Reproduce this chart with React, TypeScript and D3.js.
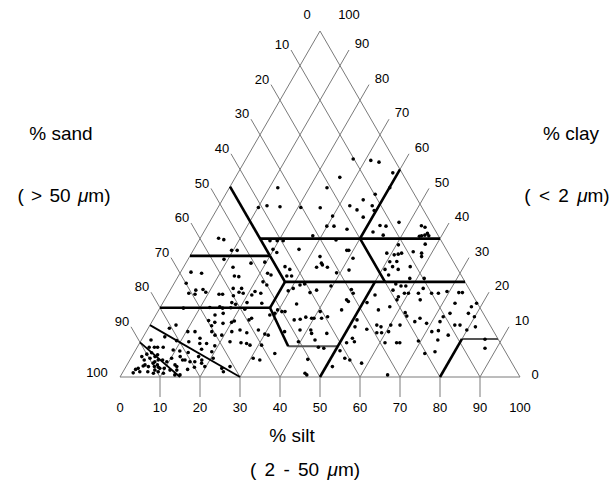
import React from "react";
import * as d3 from "d3";

// Grid values (percent)
const gridValues = [10, 20, 30, 40, 50, 60, 70, 80, 90];
const sandLabels = [0, 10, 20, 30, 40, 50, 60, 70, 80, 90, 100];
const clayLabels = [0, 10, 20, 30, 40, 50, 60, 70, 80, 90, 100];
const siltLabels = [0, 10, 20, 30, 40, 50, 60, 70, 80, 90, 100];

// Samples: [silt %, clay %]
const samples: [number, number][] = [
  [4.6,40.1],[6.1,39.7],[9.6,36.6],[11,36.6],[9,34],[16.3,32.9],
  [26.8,63],[31.4,62.6],[33.7,62.1],[38.7,59],[26.1,57.7],[24.4,54.7],[12.1,54.7],[40.1,54.7],
  [37.4,52.8],[35.2,51.2],[32.7,49.5],[10.1,49],[12,49.5],[15.4,49.2],[20.7,49],[25.6,48.9],
  [35.1,48.3],[38.3,49.5],[39.5,48.1],[29.9,46.5],[37.7,46.2],[29.9,43.6],[31.7,43.6],[35.4,42.7],
  [43.1,43.8],[42.3,41.9],[45.3,41],[27.8,40.8],[17.8,39.4],[19.6,39.4],[21.1,39.4],[34.2,39.6],
  [19.8,36.9],[21.2,36],[26.3,36.9],[38.4,36.6],[38.9,36.6],[32.6,34.8],[41.1,34.3],[19.6,33.2],[33.9,32.9],
  [47.4,44.7],[44.7,43.6],[53.5,43.7],[54.6,43.3],[56.1,41.5],[56.8,40.8],[55.7,41],[55,40.8],[54.5,40.7],
  [50.5,38.2],[48.8,35.8],[50.9,35.3],[51.8,35.5],[52.5,35.8],[55.2,36.2],[57.5,35.8],[58,34.8],[57.1,38.4],
  [50.8,33.3],[52.5,33.4],
  [2.6,30.3],[5.4,30],[3,27.1],[12.4,31.7],[14,29.2],[15.2,29],[5.1,24.2],[6.8,23.9],[6.4,25.1],[8.1,25.3],
  [9.2,24.5],[12.8,23.9],[13.7,23.9],[15.5,25.6],[17.6,25.6],[17.5,24.5],[18.7,24.2],[16.6,23.5],[17.2,21.5],
  [18.4,21],[5.9,19.9],[12.4,20.1],[14.8,20.3],[15.7,19.9],[17.7,20],[21.4,19.6],[14.8,17.9],[16.6,18.4],
  [14,16.3],[15.8,15.8],[18,15.5],[20,15.8],[20.5,16.2],[5.3,14.1],[6.5,15],[10.4,13.1],[12.2,13.1],
  [16.4,13.1],[17.7,12.1],[19.4,12.1],[21.4,13.1],[23.2,13.6],[2.4,10.7],[5.4,11.6],[8.9,10.5],[12.1,10.2],
  [14.4,11.2],[15.1,9.7],[16.4,8],[16.8,9.7],[19.2,9],[22.4,10.2],[25.3,9.9],[26.8,9.7],[3,8.6],[4.3,8.6],
  [5.1,8.6],[6.5,8.6],[4.4,7],[3.4,6.6],[6.2,6.4],[3.6,4.9],[4.8,5.4],[6.5,4.4],[7.1,4.9],[8.2,4.9],[9.5,4.4],
  [4.2,3.2],[5.6,3],[7.1,3],[8.2,2.8],[4.2,1.5],[2.7,1.2],[2.8,2.2],[6.2,1.5],[7.7,2],[8.8,1.5],[9.8,2.5],
  [11.5,2],[12.1,5.9],[13.8,4.9],[16.5,4.4],[16.7,5.9],[15.8,2.2],[17.2,2.8],[12.7,3],[19.7,3],[24.2,2.5],
  [25.1,1.5],[26,3],[13.4,0.6],[14.7,0.6],
  [15.5,14.8],[9.4,7.8],[11.2,7.5],[13.5,7.1],[19.3,7.3],[20.6,5.4],[13.2,4.9],[15.3,4.4],[18,4.9],[18.4,4],
  [2.5,5.9],[4.5,3.5],[3.3,2.5],[5.8,5.9],[6.3,4],[7.6,3.5],[8.7,2.5],[10.3,1.1],[7.8,1.1],[10.2,5.4],
  [12,3.5],[13.2,2],
  [25.3,31.9],[26.9,31.1],[33.3,31.7],[34.4,32.4],[36,31.7],[41.8,30.9],[39.1,30.1],[21.9,30],[23,29.5],
  [27.1,29.2],[28.3,29.2],[22,27.5],[23.4,26.6],[31.7,26.6],[32.7,26.9],[30.5,25.6],[29.6,24.9],[39.6,26.3],
  [45.2,25.3],[36.6,25.1],[35.3,24.4],[46.2,24.2],[21.4,24.7],[23.1,24.2],[21.1,23.7],[21,21.5],[24.8,21.3],
  [33.6,21.1],[40.6,18.9],[45.7,19.4],[45.5,22.3],[46.2,21.8],[51,21.5],[29.7,19.4],[31,18.9],[31.8,18.9],
  [29.5,18.4],[28.5,17.9],[35.3,16.5],[36.7,16.7],[37.8,17.3],[39.4,17],[40,17],[41.9,17],[43.2,17.4],
  [51,16.5],[24.4,17],[24,16.5],[27.8,13.6],[25.3,12.8],[30,12.4],[31,12.1],[34.6,13.1],[38.2,13.6],
  [40.9,13.6],[41.6,12.6],[45.4,12.6],[51.5,14.5],[52.5,11.2],[53.5,10.2],[51.7,9.9],[54.8,13.8],[27.9,9.2],
  [30.8,9.2],[39.5,10.2],[43.4,10.7],[45.3,8.6],[46.8,8.3],[51.2,7.6],[30.6,5.4],[32.5,4.9],[35.3,6.8],
  [44.4,5.1],[53.5,5.4],[55,4.9],[45.7,1.1],[46.4,0.6],[51.6,3],[58.4,4],
  [52.2,31.9],[50.7,31.1],[52.4,29.5],[54,31.1],[56.6,31.9],[58.2,28.5],[61.8,28.5],[55.5,26.9],[57.1,26.3],
  [58.3,26.3],[55.7,25.1],[59,24.2],[60,24.2],[58,23.2],[58.1,22.3],[62.5,24.2],[63,25.6],[65.8,24.2],
  [67.5,24.2],[63.9,22.3],[69.4,24.7],[72.5,24.4],[73.4,24.4],[73.1,21.3],[77.7,20.3],[78.5,21.3],[51.9,23.7],
  [57.3,20.3],[54.9,19.4],[62,18.6],[62.9,17.6],[65.7,16],[66.5,17],[68.9,15.5],[72,16],[73.3,18.4],
  [77.9,18.4],[79.9,17.4],[72.1,17.4],[56.7,15],[58,14.5],[60.2,15],[62.5,15],[57.8,12.8],[59,12.8],
  [60.6,13.1],[71.4,13.1],[72.9,13.4],[76.2,15],[77.5,15],[79.9,13.6],[81.6,14.5],[61.3,9.9],[64.2,9.9],
  [65,9.9],[69.4,10.4],[74.1,10.7],[76,12.1],[72.8,6.8],[75.1,7.3],[85.8,10.9],[87.1,8.3],[66.6,0.6]
];

// Texture class boundaries: polylines of [silt %, clay %]
const thickBoundaries: [number, number][][] = [
  [[0, 55], [20, 35]],
  [[0, 35], [20, 35]],
  [[15, 40], [60, 40]],
  [[20, 35], [27.5, 27.5], [72.5, 27.5]],
  [[27.5, 27.5], [27.5, 20]],
  [[0, 20], [27.5, 20]],
  [[27.5, 20], [37.6, 8.9]],
  [[40, 60], [40, 40], [52.5, 27.5]],
  [[50, 27.5], [50, 0]],
  [[80, 0], [80, 11]],
];
const greyBoundaries: [number, number][][] = [
  [[37.6, 8.9], [50, 8.9]],
  [[80, 11], [89, 11]],
];
const thinBoundaries: [number, number][][] = [
  [[0, 15], [30, 0]],
  [[0, 10], [15, 0]],
];

export default function App() {
  const W = 614, Hpx = 487;
  const x0 = 120, y0 = 377, L = 400, H = 346;
  const xs = d3.scaleLinear().domain([0, 100]).range([x0, x0 + L]);
  const ys = d3.scaleLinear().domain([0, 100]).range([y0, y0 - H]);
  const px = (silt: number, clay: number): [number, number] => [xs(silt + clay / 2), ys(clay)];
  const line = d3
    .line<[number, number]>()
    .x((d) => px(d[0], d[1])[0])
    .y((d) => px(d[0], d[1])[1]);

  const gridColor = "#7a7a7a";
  const tickLen = 18;
  const c30 = 0.5, s60 = Math.sqrt(3) / 2;
  const font = "Liberation Sans, Arial, sans-serif";

  const apex = px(0, 100);
  const left = px(0, 0);
  const right = px(100, 0);

  return (
    <svg width={W} height={Hpx} style={{ position: "absolute", left: 0, top: 0, background: "#fff" }}>
      <path d={`M${left[0]},${left[1]}L${right[0]},${right[1]}L${apex[0]},${apex[1]}Z`} fill="none" stroke={gridColor} strokeWidth={1} />
      {gridValues.map((s) => {
        const a = px(0, 100 - s);
        const b = px(100 - s, 0);
        return (
          <line key={"sa" + s} x1={a[0] - tickLen * c30} y1={a[1] - tickLen * s60} x2={b[0]} y2={b[1]} stroke={gridColor} strokeWidth={1} />
        );
      })}
      {gridValues.map((t) => {
        const a = px(t, 0);
        const b = px(t, 100 - t);
        return (
          <g key={"si" + t}>
            <line x1={a[0]} y1={a[1]} x2={b[0] + tickLen * c30} y2={b[1] - tickLen * s60} stroke={gridColor} strokeWidth={1} />
            <line x1={a[0]} y1={a[1]} x2={a[0]} y2={a[1] + 20} stroke={gridColor} strokeWidth={1} />
          </g>
        );
      })}
      {thinBoundaries.map((b, i) => (
        <path key={"tb" + i} d={line(b) || ""} fill="none" stroke="#000" strokeWidth={1.8} />
      ))}
      {greyBoundaries.map((b, i) => (
        <path key={"gb" + i} d={line(b) || ""} fill="none" stroke="#555" strokeWidth={2} />
      ))}
      {thickBoundaries.map((b, i) => (
        <path key={"kb" + i} d={line(b) || ""} fill="none" stroke="#000" strokeWidth={2.6} />
      ))}
      {samples.map((d, i) => {
        const p = px(d[0], d[1]);
        return <circle key={"p" + i} cx={p[0]} cy={p[1]} r={1.8} fill="#000" />;
      })}
      <g fontFamily={font} fontSize={13} fill="#000" textAnchor="middle">
        {sandLabels.map((s) => {
          let p: [number, number];
          if (s === 0) p = [apex[0] - 13, apex[1] - 17];
          else if (s === 100) p = [left[0] - 23, left[1] - 5];
          else {
            const e = px(0, 100 - s);
            p = [e[0] - 18, e[1] - 21];
          }
          return <text key={"ls" + s} x={p[0]} y={p[1]} dy="0.35em">{s}</text>;
        })}
        {clayLabels.map((c) => {
          let p: [number, number];
          if (c === 100) p = [apex[0] + 29, apex[1] - 17];
          else if (c === 0) p = [right[0] + 15, right[1] - 3];
          else {
            const e = px(100 - c, c);
            p = [e[0] + 22, e[1] - 22];
          }
          return <text key={"lc" + c} x={p[0]} y={p[1]} dy="0.35em">{c}</text>;
        })}
        {siltLabels.map((t) => (
          <text key={"lt" + t} x={xs(t)} y={407} dy="0.35em">{t}</text>
        ))}
      </g>
      <g fontFamily={font} fontSize={19} fill="#000" textAnchor="middle">
        <text x={61} y={133} dy="0.35em">% sand</text>
        <text x={64} y={195} dy="0.35em" wordSpacing={2}>( &gt; 50 <tspan fontStyle="italic">μ</tspan>m)</text>
        <text x={571} y={133} dy="0.35em">% clay</text>
        <text x={567} y={195} dy="0.35em" wordSpacing={3}>( &lt; 2 <tspan fontStyle="italic">μ</tspan>m)</text>
        <text x={292} y={435} dy="0.35em">% silt</text>
        <text x={305} y={469} dy="0.35em" wordSpacing={3}>( 2 - 50 <tspan fontStyle="italic">μ</tspan>m)</text>
      </g>
    </svg>
  );
}
